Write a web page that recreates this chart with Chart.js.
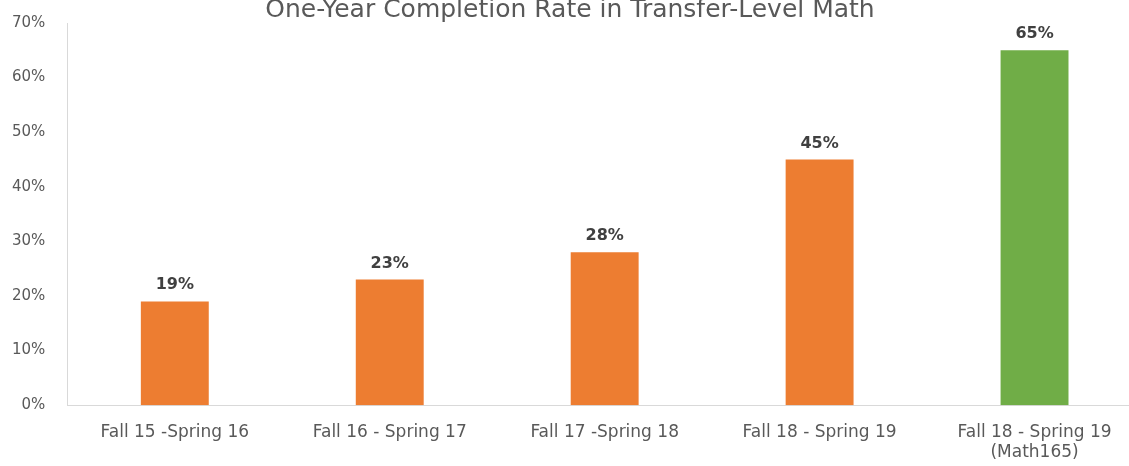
<!DOCTYPE html>
<html>
<head>
<meta charset="utf-8">
<script src="https://cdn.jsdelivr.net/npm/chart.js@4"></script>
<style>
  html, body { margin: 0; padding: 0; background: #fff; overflow: hidden; }
  #wrap { width: 1142px; height: 466px; position: relative; }
</style>
</head>
<body>
<div id="wrap"><canvas id="myChart"></canvas></div>
<script>
const categories = [
  "Fall 15 -Spring 16",
  "Fall 16 - Spring 17",
  "Fall 17 -Spring 18",
  "Fall 18 - Spring 19",
  ["Fall 18 - Spring 19", "(Math165)"],
];
const rates = [19, 23, 28, 45, 65];
const barColors = ["#ED7D31", "#ED7D31", "#ED7D31", "#ED7D31", "#70AD47"];

const FONT = "'DejaVu Sans', sans-serif";

// values above the bars
const barLabels = {
  id: "barLabels",
  afterDatasetsDraw(chart) {
    const ctx = chart.ctx;
    const meta = chart.getDatasetMeta(0);
    ctx.save();
    ctx.font = "bold 16px " + FONT;
    ctx.fillStyle = "#404040";
    ctx.textAlign = "center";
    ctx.textBaseline = "alphabetic";
    meta.data.forEach((bar, i) => {
      ctx.fillText(rates[i] + "%", bar.x, bar.y - 12);
    });
    ctx.restore();
  },
};

const ctx = document.getElementById("myChart").getContext("2d");
const myChart = new Chart(ctx, {
  type: "bar",
  data: {
    labels: categories,
    datasets: [
      {
        data: rates,
        backgroundColor: barColors,
        borderWidth: 0,
        barPercentage: 0.316,
        categoryPercentage: 1,
      },
    ],
  },
  options: {
    responsive: true,
    maintainAspectRatio: false,
    animation: false,
    layout: {
      padding: { left: -2, right: 0, top: 0, bottom: -6 },
    },
    plugins: {
      legend: { display: false },
      tooltip: { enabled: false },
      title: {
        display: true,
        text: "One-Year Completion Rate in Transfer-Level Math",
        color: "#595959",
        font: { family: FONT, size: 25, weight: "normal" },
        padding: { top: -9, bottom: -2 },
      },
    },
    scales: {
      x: {
        grid: { display: false },
        border: { display: true, color: "#d9d9d9", width: 1 },
        ticks: {
          color: "#595959",
          font: { family: FONT, size: 17, lineHeight: 1.2 },
          padding: 9,
          maxRotation: 0,
        },
      },
      y: {
        min: 0,
        max: 70,
        grid: { display: false },
        border: { display: true, color: "#d9d9d9", width: 1 },
        ticks: {
          stepSize: 10,
          color: "#595959",
          font: { family: FONT, size: 15 },
          padding: 14,
          callback: (v) => v + "%",
        },
      },
    },
  },
  plugins: [barLabels],
});
</script>
</body>
</html>
